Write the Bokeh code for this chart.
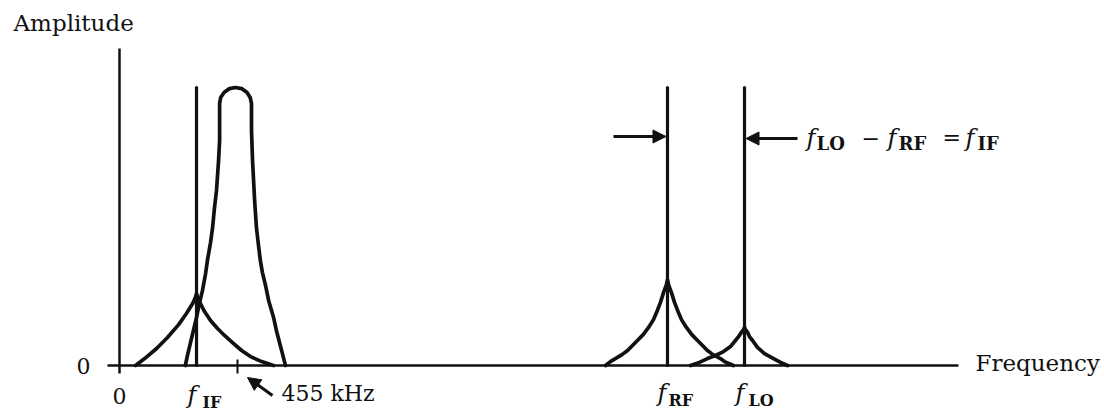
from bokeh.plotting import figure
from bokeh.models import Label, Arrow, NormalHead, Range1d
from bokeh.embed import file_html
from bokeh.resources import INLINE

# ---------------- data (frequency in kHz, amplitude relative) ----------------
f_IF = 297
f_RF = 2113
f_LO = 2410
tick_455 = 455
line_freqs = [f_IF, f_RF, f_LO]
line_amps = [1.0, 1.0, 1.0]

# IF band-pass filter response
bp_freq = [254, 262, 274, 285, 297, 308, 320, 332, 339, 351, 359, 366, 374, 378, 382, 386, 386,
           386, 390, 404, 424, 447, 471, 491, 504, 509,
           509, 513, 517, 521, 528, 536, 543, 551, 563, 575, 594, 605, 617, 629, 640]
bp_amp = [0, .036, .083, .126, .173, .223, .270, .331, .378, .442, .496, .565, .629, .683, .737, .809, .881,
          .942, .964, .983, .996, 1.0, .996, .983, .964, .942,
          .845, .737, .665, .594, .496, .432, .378, .335, .288, .234, .173, .126, .083, .040, 0]

# spectral skirts around each component
if_freq = [62, 97, 143, 185, 228, 258, 282, 293, 297, 301, 312, 328, 351, 378, 405, 440, 471, 505, 548, 594]
if_amp = [0, .025, .061, .101, .147, .187, .223, .245, .259, .245, .223, .194, .162, .133, .108, .079, .054, .032, .014, 0]

rf_freq = [1874, 1893, 1920, 1939, 1959, 1978, 1997, 2020, 2040, 2059, 2074, 2086, 2098, 2109, 2113,
           2117, 2128, 2140, 2152, 2167, 2186, 2206, 2229, 2248, 2267, 2287, 2317, 2333, 2367]
rf_amp = [0, .014, .029, .040, .054, .072, .090, .112, .137, .165, .198, .227, .263, .291, .309,
          .291, .263, .227, .198, .165, .137, .112, .090, .072, .054, .040, .025, .014, 0]

lo_freq = [2202, 2236, 2267, 2298, 2329, 2356, 2375, 2387, 2398, 2406, 2410,
           2414, 2422, 2429, 2441, 2460, 2487, 2522, 2549, 2576]
lo_amp = [0, .011, .025, .036, .050, .068, .090, .104, .119, .129, .137,
          .129, .119, .104, .090, .065, .043, .025, .011, 0]

axis_x_end = 3235
axis_y_end = 1.14

# ---------------- layout ----------------
W, H = 1104, 414
K = 455.0 / 118.0      # kHz per pixel
A = 1.0 / 278.0        # amplitude per pixel
OX, OY = 119, 365      # page pixel of the origin


def px(xp):
    return (xp - OX) * K


def py(yp):
    return (OY - yp) * A


p = figure(width=W, height=H, output_backend="svg", toolbar_location=None,
           x_axis_type=None, y_axis_type=None, min_border=0,
           x_range=Range1d(px(0), px(W)), y_range=Range1d(py(H), py(0)))
p.outline_line_color = None
p.grid.visible = False
p.background_fill_color = "white"
p.border_fill_color = "white"

BLACK = "#111111"

# axes
p.segment(x0=[px(107)], y0=[0], x1=[axis_x_end], y1=[0], line_width=2.5, line_color=BLACK)
p.segment(x0=[0], y0=[py(373)], x1=[0], y1=[axis_y_end], line_width=2.5, line_color=BLACK)
p.segment(x0=[tick_455], y0=[py(373)], x1=[tick_455], y1=[py(359)], line_width=2, line_color=BLACK)

# spectral lines
p.segment(x0=line_freqs, y0=[0, 0, 0], x1=line_freqs, y1=line_amps,
          line_width=3.2, line_color=BLACK, line_cap="round")

# curves
for fx, fy in [(bp_freq, bp_amp), (if_freq, if_amp), (rf_freq, rf_amp), (lo_freq, lo_amp)]:
    p.line(fx, fy, line_width=3.7, line_color=BLACK, line_join="round", line_cap="round")

FONT = "DejaVu Serif"


def lab(text, x, y, size, style="normal", align="left", baseline="middle"):
    p.add_layout(Label(x=x, y=y, text=text, text_font=FONT, text_font_size=f"{size}px",
                       text_font_style=style, text_align=align, text_baseline=baseline,
                       text_color=BLACK))


def flabel(x_left_f, y_f, sub, x_left_sub, y_sub, fsize=24, ssize=16):
    lab("f", x_left_f, y_f, fsize, "italic", "left")
    lab(sub, x_left_sub, y_sub, ssize, "bold", "left")


lab("Amplitude", px(13), py(22), 23)
lab("0", px(83), 0, 22, align="center")
lab("0", 0, py(395), 22, align="center")
lab("455 kHz", px(281), py(393), 22)
lab("Frequency", px(975), py(362), 23)

# f labels below axis
flabel(f_IF - 9 * K, py(394), "IF", f_IF + 6 * K, py(402))
flabel(f_RF - 10 * K, py(392), "RF", f_RF + 1 * K, py(400))
flabel(f_LO - 9 * K, py(392), "LO", f_LO + 4 * K, py(400))

# equation
ey = py(137)
esy = py(143)
flabel(px(806), ey, "LO", px(816), esy, ssize=18)
lab("\u2212", px(861), ey, 22)
flabel(px(887), ey, "RF", px(898), esy, ssize=18)
lab("=", px(942), ey, 22)
flabel(px(965), ey, "IF", px(977), esy, ssize=18)


# arrows
def arrow(x_start, y_start, x_end, y_end):
    p.add_layout(Arrow(x_start=x_start, y_start=y_start, x_end=x_end, y_end=y_end,
                       line_width=3, line_color=BLACK,
                       end=NormalHead(size=13, fill_color=BLACK, line_color=BLACK, line_width=1)))


arrow(px(613), py(136), f_RF - 1.5 * K, py(136))
arrow(px(797), py(138), f_LO + 1.5 * K, py(138))
arrow(px(272), py(395), px(247), py(377))

open("out.html", "w").write(file_html(p, INLINE))
